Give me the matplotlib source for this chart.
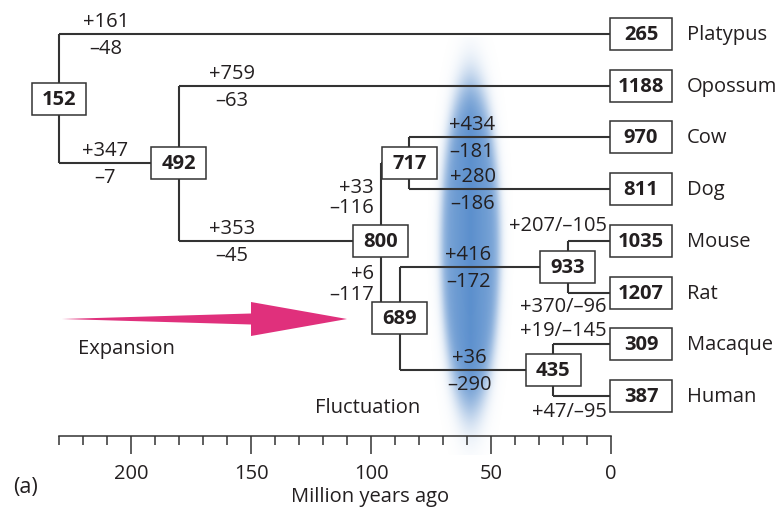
import numpy as np
import matplotlib.pyplot as plt
from matplotlib.patches import Rectangle, Polygon

plt.rcParams['font.family'] = ['Open Sans', 'DejaVu Sans']

# leaves, top to bottom
species = ["Platypus", "Opossum", "Cow", "Dog", "Mouse", "Rat", "Macaque", "Human"]
species_counts = [265, 1188, 970, 811, 1035, 1207, 309, 387]

# internal nodes: children, age (million years ago), gene count
node_names = ["n152", "n492", "n800", "n717", "n689", "n933", "n435"]
node_children = [["Platypus", "n492"], ["Opossum", "n800"], ["n717", "n689"],
                 ["Cow", "Dog"], ["n933", "n435"], ["Mouse", "Rat"], ["Macaque", "Human"]]
node_ages = [230, 180, 96, 84, 88, 18, 24]
node_counts = [152, 492, 800, 717, 689, 933, 435]

# gains / losses on the branch leading to each node
branch_to = ["Platypus", "n492", "Opossum", "n800", "n717", "n689", "Cow", "Dog",
             "n933", "n435", "Mouse", "Rat", "Macaque", "Human"]
gains = [161, 347, 759, 353, 33, 6, 434, 280, 416, 36, 207, 370, 19, 47]
losses = [48, 7, 63, 45, 116, 117, 181, 186, 172, 290, 105, 96, 145, 95]

major_ticks = [200, 150, 100, 50, 0]

INK = '#231f20'
LINE = '#333333'
FS = 14.5
ROW = 51.7      # pixels per leaf row
PXM = 2.4       # pixels per million years

def rows(px):
    return px / ROW

def myr(px):
    return px / PXM

fig = plt.figure(figsize=(7.79, 5.09), dpi=100)
ax = fig.add_axes([0, 0, 1, 1])

# positions of every node
age = {s: 0 for s in species}
ypos = {s: i for i, s in enumerate(species)}
count = dict(zip(species, species_counts))
kids = dict(zip(node_names, node_children))
for n, a, c in zip(node_names, node_ages, node_counts):
    age[n] = a
    count[n] = c

def place(n):
    if n in ypos:
        return ypos[n]
    ypos[n] = np.mean([place(k) for k in kids[n]])
    return ypos[n]

place("n152")
parent = {k: n for n in node_names for k in kids[n]}

# blue band
tc, yc = 58.5, rows(246 - 34)
a, b = myr(34), rows(190)
u = np.linspace(-1.3, 1.3, 160)
v = np.linspace(-1.1, 1.1, 400)
U, V = np.meshgrid(u, v)
r = np.sqrt(U**2 + V**2)
img = np.zeros((400, 160, 4))
edge = np.clip(np.abs(U), 0, 1)
img[..., 0] = 0.34 + 0.16 * edge
img[..., 1] = 0.55 + 0.11 * edge
img[..., 2] = 0.80 + 0.05 * edge
img[..., 3] = 0.97 / (1 + np.exp((r - 0.86) / 0.075))
ax.imshow(img, extent=(tc + 1.3 * a, tc - 1.3 * a, yc + 1.1 * b, yc - 1.1 * b),
          aspect='auto', zorder=1, interpolation='bilinear')

# branches
for n in node_names:
    ys = [ypos[k] for k in kids[n]]
    ax.plot([age[n], age[n]], [min(ys), max(ys)], color=LINE, lw=1.5, zorder=2,
            solid_capstyle='butt')
    for k in kids[n]:
        ax.plot([age[n], age[k]], [ypos[k], ypos[k]], color=LINE, lw=1.5, zorder=2,
                solid_capstyle='butt')

# boxes
bh = rows(32)
for n in node_names:
    bw = myr(55)
    ax.add_patch(Rectangle((age[n] + bw / 2, ypos[n] - bh / 2), -bw, bh, facecolor='white',
                           edgecolor=LINE, lw=1.1, zorder=3))
    ax.text(age[n], ypos[n] + 0.02, str(count[n]), ha='center', va='center',
            fontsize=FS, fontweight='bold', color=INK, zorder=4)
for s in species:
    bw = myr(62)
    ax.add_patch(Rectangle((0.4, ypos[s] - bh / 2), -bw, bh, facecolor='white',
                           edgecolor=LINE, lw=1.1, zorder=3))
    ax.text(0.4 - bw / 2, ypos[s] + 0.02, str(count[s]), ha='center', va='center',
            fontsize=FS, fontweight='bold', color=INK, zorder=4)
    ax.text(myr(-76), ypos[s] + 0.02, s, ha='left', va='center', fontsize=FS, color=INK)

# gain / loss labels
mid_x = {"Platypus": 210.5, "n492": 211, "Opossum": 158, "n800": 158,
         "Cow": 58, "Dog": 57.5, "n933": 59.5, "n435": 59}
side = {"n717": [-53, -33], "n689": [33, 54]}
tip = {"Mouse": -15, "Rat": 15, "Macaque": -13, "Human": 16}
for k, g, l in zip(branch_to, gains, losses):
    gt, lt = f"+{g}", f"\u2013{l}"
    if k in mid_x:
        ax.text(mid_x[k], ypos[k] - rows(12), gt, ha='center', va='center', fontsize=FS, color=INK)
        ax.text(mid_x[k], ypos[k] + rows(15), lt, ha='center', va='center', fontsize=FS, color=INK)
    elif k in side:
        p = parent[k]
        x = age[p] + myr(7)
        ax.text(x, ypos[p] + rows(side[k][0]), gt, ha='right', va='center', fontsize=FS, color=INK)
        ax.text(x, ypos[p] + rows(side[k][1]), lt, ha='right', va='center', fontsize=FS, color=INK)
    else:
        ax.text(myr(4), ypos[k] + rows(tip[k]), gt + "/" + lt, ha='right', va='center',
                fontsize=FS, color=INK)

# expansion arrow
ya = rows(319 - 34)
ax.add_patch(Polygon([(228.75, ya), (150, ya - rows(5.5)), (150, ya - rows(17)), (110, ya),
                      (150, ya + rows(17)), (150, ya + rows(5.5))],
                     closed=True, facecolor='#e0307c', edgecolor='none', zorder=2))
ax.text(201.7, rows(349 - 34), "Expansion", ha='center', va='center', fontsize=FS, color=INK)
ax.text(101.25, rows(408 - 34), "Fluctuation", ha='center', va='center', fontsize=FS, color=INK)

# time axis
ax.set_xlim(611 / PXM, -168 / PXM)
ax.set_ylim(rows(509 - 34), rows(-34))
for sp in ['top', 'left', 'right']:
    ax.spines[sp].set_visible(False)
ax.spines['bottom'].set_position(('data', rows(436 - 34)))
ax.spines['bottom'].set_bounds(0, 230)
ax.spines['bottom'].set_linewidth(1.1)
ax.spines['bottom'].set_color(LINE)
ax.set_xticks(major_ticks)
ax.set_xticklabels([str(t) for t in major_ticks])
ax.set_xticks(np.arange(0, 231, 10), minor=True)
ax.tick_params(which='major', length=13, width=1.1, direction='out', pad=7,
               labelsize=FS, colors=LINE, labelcolor=INK)
ax.tick_params(which='minor', length=6.5, width=1.1, direction='out', colors=LINE)
ax.yaxis.set_visible(False)
ax.patch.set_visible(False)

ax.text(100.4, rows(497 - 34), "Million years ago", ha='center', va='center', fontsize=FS, color=INK)
ax.text(244, rows(488 - 34), "(a)", ha='center', va='center', fontsize=15.5, color=INK)

plt.savefig("out.png", dpi=100)
